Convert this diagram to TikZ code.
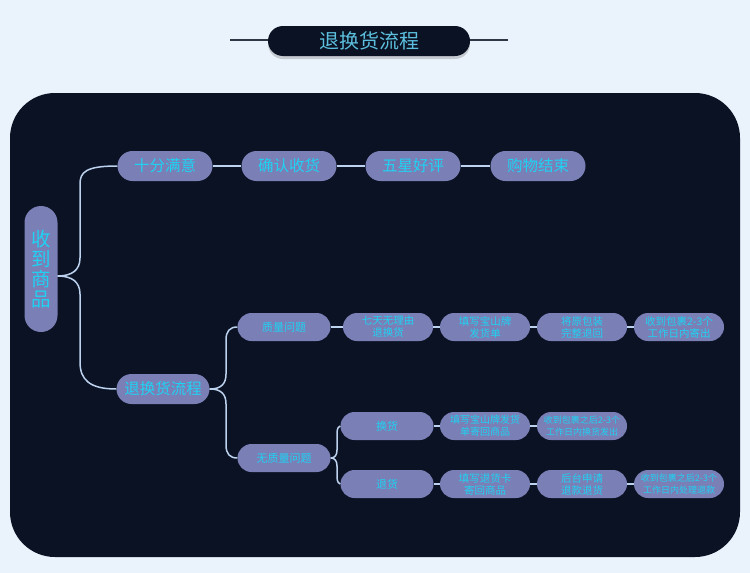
\documentclass[tikz,border=0pt]{standalone}
\usepackage{fontspec}
\setmainfont{Noto Sans CJK SC}
\usetikzlibrary{positioning,shadows}
\definecolor{pagebg}{HTML}{EAF2FB}
\definecolor{panelcol}{HTML}{0B1224}
\definecolor{pillcol}{HTML}{7A7FB6}
\definecolor{txtcol}{HTML}{1FD2F2}
\definecolor{wirecol}{HTML}{BCD2EE}
\definecolor{titlecol}{HTML}{5CBFDD}
\tikzset{Flow/.style = {
		every node/.style = {rectangle, fill=pillcol, text=txtcol, inner sep=0pt,
			rounded corners=14pt, minimum height=29pt, align=center},
		big/.style = {minimum width=95pt, minimum height=30pt, rounded corners=15pt,
			font=\fontsize{15.5}{16}\selectfont},
		mid/.style = {minimum width=93pt, minimum height=28pt, font=\fontsize{11}{12}\selectfont},
		leaf/.style = {minimum width=90pt, minimum height=28pt, font=\fontsize{10.5}{12}\selectfont},
		longleaf/.style = {leaf, font=\fontsize{9}{12}\selectfont},
		link/.style = {draw=wirecol, line width=1.5pt},
		titlebox/.style = {fill=panelcol, text=titlecol, minimum width=202pt, minimum height=30pt,
			rounded corners=15pt, font=\fontsize{20}{22}\selectfont,
			drop shadow={shadow xshift=0pt, shadow yshift=-3pt, opacity=0.35}},
	}% end of Flow style
}

\begin{document}
\begin{tikzpicture}[Flow,x=1pt,y=-1pt]
  \fill[pagebg] (0,0) rectangle (750,573);
  \useasboundingbox (0,0) rectangle (750,573);

  \coordinate (TL) at (230,40);
  \coordinate (TR) at (508,40);
  \draw[panelcol!85!white, line width=2pt] (TL) -- (TR);
  \node[titlebox] (Title) at (369,41) {退换货流程};

  \fill[panelcol, rounded corners=45pt] (10,93) rectangle (740,557);

  \node[minimum width=33pt, minimum height=126pt, rounded corners=16.5pt,
    font=\fontsize{19.5}{20}\selectfont] (Root) at (41,269) {收\\到\\商\\品};

  \node[big] (S1) at (165,166) {十分满意};
  \node[big] (S2) at (289,166) {确认收货};
  \node[big] (S3) at (413,166) {五星好评};
  \node[big] (S4) at (538,166) {购物结束};
  \draw[link] (S1) -- (S2) -- (S3) -- (S4);

  \node[big, minimum width=93pt] (R0) at (163,389) {退换货流程};
  \draw[link] ([yshift=-7pt]Root.east) .. controls (72,276) and (80,270) .. (80,258)
    -- (80,184) .. controls (80,172) and (86,166) .. (S1.west);
  \draw[link] ([yshift=-7pt]Root.east) .. controls (72,276) and (80,282) .. (80,294)
    -- (80,362) .. controls (80,380) and (90,389) .. (R0.west);

  \node[mid] (Q1) at (284,327) {质量问题};
  \node[mid] (Q2) at (284,458) {无质量问题};
  \draw[link] (R0.east) .. controls (221,389) and (226,384) .. (226,374)
    -- (226,340) .. controls (226,331) and (230,327) .. (Q1.west);
  \draw[link] (R0.east) .. controls (221,389) and (226,394) .. (226,404)
    -- (226,445) .. controls (226,454) and (230,458) .. (Q2.west);

  \node[leaf] (Q11) at (388,327) {七天无理由\\退换货};
  \node[leaf] (Q12) at (485,327) {填写宝山牌\\发货单};
  \node[leaf] (Q13) at (582,327) {将原包装\\完整退回};
  \node[leaf] (Q14) at (679,327) {收到包裹2-3个\\工作日内寄出};
  \draw[link] (Q1) -- (Q11) -- (Q12) -- (Q13) -- (Q14);

  \node[mid] (H1) at (387,426) {换货};
  \node[mid] (T1) at (387,484) {退货};
  \draw[link] (Q2.east) .. controls (335,458) and (337,455) .. (337,450)
    -- (337,433) .. controls (337,428) and (339,426) .. (H1.west);
  \draw[link] (Q2.east) .. controls (335,458) and (337,461) .. (337,466)
    -- (337,477) .. controls (337,482) and (339,484) .. (T1.west);

  \node[leaf, font=\fontsize{10}{12}\selectfont] (H2) at (485,426) {填写宝山牌发货\\单寄回商品};
  \node[longleaf] (H3) at (582,426) {收到包裹之后2-3个\\工作日内换货发出};
  \draw[link] (H1) -- (H2) -- (H3);

  \node[leaf] (T2) at (485,484) {填写退货卡\\寄回商品};
  \node[leaf] (T3) at (582,484) {后台申请\\退款退货};
  \node[longleaf] (T4) at (679,484) {收到包裹之后2-3个\\工作日内处理退款};
  \draw[link] (T1) -- (T2) -- (T3) -- (T4);
\end{tikzpicture}
\end{document}
